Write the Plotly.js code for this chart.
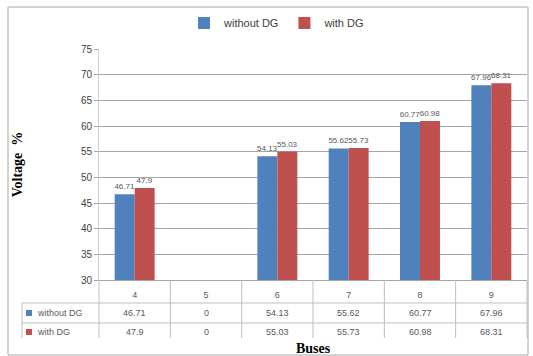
<!DOCTYPE html>
<html>
<head>
<meta charset="utf-8">
<script src="https://cdn.plot.ly/plotly-3.0.1.min.js"></script>
<style>
  html, body { margin: 0; padding: 0; background: #ffffff; }
  #chart { width: 533px; height: 356px; }
</style>
</head>
<body>
<div id="chart"></div>
<script>
// Bus voltage data, with and without distributed generation
const buses = ['4', '5', '6', '7', '8', '9'];
const withoutDG = [46.71, 0, 54.13, 55.62, 60.77, 67.96];
const withDG = [47.9, 0, 55.03, 55.73, 60.98, 68.31];
const seriesNames = ['without DG', 'with DG'];
const yTicks = [30, 35, 40, 45, 50, 55, 60, 65, 70, 75];

const BLUE = '#4F81BD';
const RED = '#C0504D';
const GRID = '#a6a6a6';
const LINE = '#bfbfbf';
const TXT = '#595959';
const SANS = 'Liberation Sans, Arial, sans-serif';
const SERIF = 'Liberation Serif, Times New Roman, serif';

const W = 533, H = 356;
const M = { l: 99, r: 6, t: 49, b: 76 };
const PW = W - M.l - M.r, PH = H - M.t - M.b;
// page pixels -> paper coordinates
const px2x = p => (p - M.l) / PW;
const px2y = p => (H - M.b - p) / PH;

const yMin = yTicks[0], yMax = yTicks[yTicks.length - 1];
const labelOf = v => (v > yMin ? String(v) : '');

const traces = [
  {
    type: 'bar', name: seriesNames[0], x: buses, y: withoutDG,
    marker: { color: BLUE },
    text: withoutDG.map(labelOf), textposition: 'outside', cliponaxis: false,
    constraintext: 'none',
    textfont: { family: SANS, size: 8, color: TXT },
    hoverinfo: 'x+y'
  },
  {
    type: 'bar', name: seriesNames[1], x: buses, y: withDG,
    marker: { color: RED },
    text: withDG.map(labelOf), textposition: 'outside', cliponaxis: false,
    constraintext: 'none',
    textfont: { family: SANS, size: 8, color: TXT },
    hoverinfo: 'x+y'
  }
];

// Data table under the plot: grid lines, legend keys and values
const n = buses.length;
const shapes = [];
const annotations = [];
const tableTop = H - M.b, row1 = 303, row2 = 323, tableBottom = 338, keyLeft = 22;

for (let k = 0; k <= n; k++) {
  shapes.push({ type: 'line', xref: 'paper', yref: 'paper',
    x0: k / n, x1: k / n, y0: px2y(tableTop), y1: px2y(tableBottom),
    line: { color: LINE, width: 1 } });
}
shapes.push({ type: 'line', xref: 'paper', yref: 'paper',
  x0: px2x(keyLeft), x1: px2x(keyLeft), y0: px2y(row1), y1: px2y(tableBottom),
  line: { color: LINE, width: 1 } });
[row1, row2].forEach(r => shapes.push({ type: 'line', xref: 'paper', yref: 'paper',
  x0: px2x(keyLeft), x1: 1, y0: px2y(r), y1: px2y(r),
  line: { color: LINE, width: 1 } }));

// outer chart frame
shapes.push({ type: 'rect', xref: 'paper', yref: 'paper',
  x0: px2x(8), x1: px2x(528), y0: px2y(355), y1: px2y(7),
  line: { color: '#a8a8a8', width: 1 }, layer: 'below' });

const rows = [
  { name: seriesNames[0], vals: withoutDG, color: BLUE, y: 313 },
  { name: seriesNames[1], vals: withDG, color: RED, y: 332 }
];
rows.forEach(row => {
  shapes.push({ type: 'rect', xref: 'paper', yref: 'paper',
    x0: px2x(26), x1: px2x(32), y0: px2y(row.y + 3), y1: px2y(row.y - 3),
    fillcolor: row.color, line: { width: 0 } });
  annotations.push({ xref: 'paper', yref: 'paper', x: px2x(35), y: px2y(row.y),
    xanchor: 'left', yanchor: 'middle', showarrow: false, text: row.name,
    font: { family: SANS, size: 9, color: TXT } });
  // category positions on the axis are 0..n-1
  row.vals.forEach((v, i) => annotations.push({
    xref: 'x', yref: 'paper', x: i, y: px2y(row.y),
    xanchor: 'center', yanchor: 'middle', showarrow: false, text: String(v),
    font: { family: SANS, size: 9, color: TXT } }));
});

const layout = {
  width: W, height: H,
  margin: M,
  paper_bgcolor: '#ffffff', plot_bgcolor: '#ffffff',
  font: { family: SANS, color: TXT },
  barmode: 'group', bargap: 0.44, bargroupgap: 0,
  showlegend: true,
  legend: {
    orientation: 'h', x: px2x(184), xanchor: 'left', y: px2y(23), yanchor: 'middle',
    font: { family: SANS, size: 11, color: '#404040' },
    itemwidth: 30, bgcolor: 'rgba(0,0,0,0)', traceorder: 'normal'
  },
  xaxis: {
    type: 'category', categoryorder: 'array', categoryarray: buses,
    range: [-0.5, n - 0.5], autorange: false,
    showgrid: false, zeroline: false, showline: true, linecolor: GRID, linewidth: 1,
    ticks: '', tickfont: { size: 9, color: TXT }, ticklabelstandoff: 6,
    title: { text: 'Buses', standoff: 44,
      font: { family: SERIF, size: 14, color: '#000000', weight: 'bold' } },
    fixedrange: true
  },
  yaxis: {
    range: [yMin, yMax], tickvals: yTicks, ticktext: yTicks.map(String),
    showgrid: true, gridcolor: GRID, gridwidth: 1, zeroline: false,
    showline: true, linecolor: '#d0d0d0', linewidth: 1,
    ticks: 'outside', ticklen: 4, tickcolor: GRID,
    tickfont: { size: 10, color: '#404040' },
    title: { text: 'Voltage  %', standoff: 54,
      font: { family: SERIF, size: 14, color: '#000000', weight: 'bold' } },
    fixedrange: true
  },
  shapes: shapes,
  annotations: annotations
};

Plotly.newPlot('chart', traces, layout, { displayModeBar: false, staticPlot: true });
</script>
</body>
</html>
